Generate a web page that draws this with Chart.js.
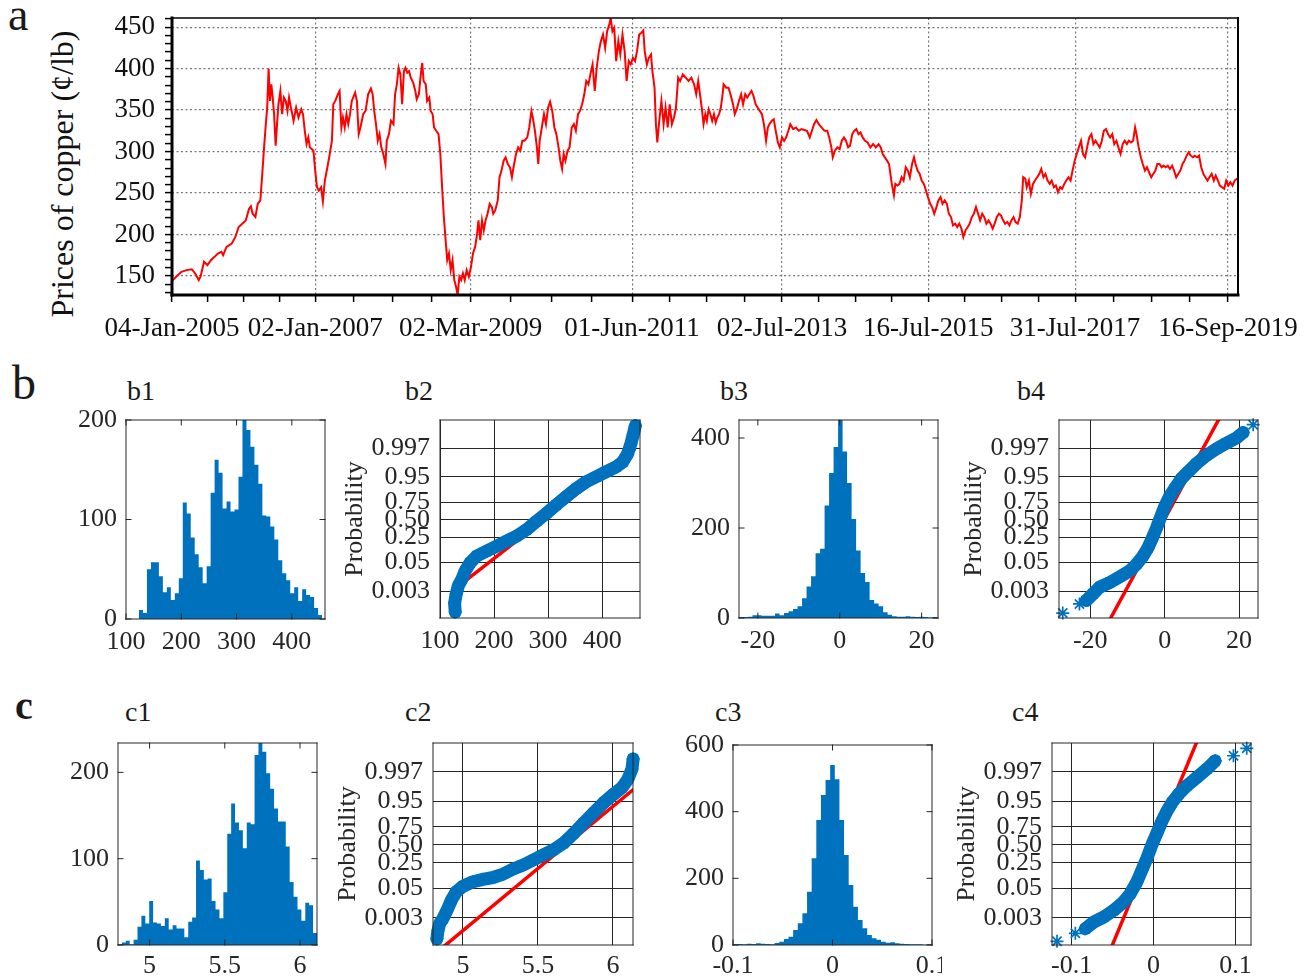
<!DOCTYPE html>
<html>
<head>
<meta charset="utf-8">
<script src="https://cdn.jsdelivr.net/npm/chart.js@4.4.1/dist/chart.umd.min.js"></script>
<style>
  html, body { margin: 0; padding: 0; background: #fff; }
  body { width: 1310px; height: 980px; position: relative; overflow: hidden;
         font-family: "Liberation Serif", "Times New Roman", serif; color: #1a1a1a; }
  .tag { position: absolute; line-height: 1; white-space: nowrap; }
  .panel { position: absolute; }
  .ytitle { position: absolute; white-space: nowrap; line-height: 1;
            transform: translate(-50%, -50%) rotate(-90deg); }
</style>
</head>
<body>
<div class="tag" style="left:8px;top:-8px;font-size:46px">a</div>
<div class="tag" style="left:12px;top:359px;font-size:48px">b</div>
<div class="tag" style="left:15px;top:686px;font-size:40px;font-weight:bold">c</div>
<div class="tag" style="left:127px;top:377px;font-size:28px">b1</div>
<div class="tag" style="left:405px;top:377px;font-size:28px">b2</div>
<div class="tag" style="left:720px;top:377px;font-size:28px">b3</div>
<div class="tag" style="left:1017px;top:377px;font-size:28px">b4</div>
<div class="tag" style="left:125px;top:698px;font-size:28px">c1</div>
<div class="tag" style="left:405px;top:698px;font-size:28px">c2</div>
<div class="tag" style="left:715px;top:698px;font-size:28px">c3</div>
<div class="tag" style="left:1012px;top:698px;font-size:28px">c4</div>
<div class="ytitle" style="left:62px;top:174px;font-size:32px;color:#111">Prices of copper (¢/lb)</div>

<script>
// ---------- (a) daily copper price, cents per pound ----------
const dateTicks = ['04-Jan-2005', '02-Jan-2007', '02-Mar-2009', '01-Jun-2011',
                   '02-Jul-2013', '16-Jul-2015', '31-Jul-2017', '16-Sep-2019'];

// days elapsed since 04-Jan-2005
const priceDay = [
  0,21,48,74,101,118,136,145,163,180,
  198,216,233,251,260,277,304,322,339,357,
  375,392,401,410,424,436,449,459,468,477,
  484,491,498,505,512,519,527,534,541,551,
  560,569,578,587,595,608,618,631,643,657,
  666,675,684,693,701,710,719,728,737,746,
  758,767,777,790,802,813,820,830,843,852,
  861,869,878,887,896,905,914,931,940,949,
  958,972,984,997,1011,1020,1028,1037,1046,1055,
  1064,1074,1085,1092,1103,1113,1126,1134,1143,1152,
  1161,1170,1179,1187,1196,1205,1214,1226,1237,1244,
  1255,1263,1272,1279,1290,1297,1308,1315,1325,1332,
  1343,1355,1364,1373,1382,1391,1399,1408,1417,1426,
  1435,1444,1452,1461,1470,1479,1488,1498,1509,1520,
  1530,1541,1551,1558,1567,1576,1585,1594,1604,1615,
  1626,1633,1643,1656,1665,1675,1686,1696,1707,1718,
  1728,1739,1749,1760,1771,1781,1792,1806,1816,1827,
  1834,1845,1855,1862,1869,1880,1891,1901,1912,1922,
  1933,1944,1954,1965,1974,1983,1991,2000,2011,2021,
  2032,2043,2053,2064,2074,2085,2096,2106,2117,2127,
  2138,2149,2159,2170,2180,2191,2202,2212,2223,2230,
  2239,2248,2258,2269,2279,2290,2301,2311,2322,2332,
  2343,2354,2364,2375,2385,2396,2403,2414,2424,2435,
  2442,2453,2460,2467,2477,2488,2499,2509,2520,2530,
  2541,2552,2562,2573,2583,2597,2612,2626,2640,2654,
  2665,2675,2693,2702,2711,2719,2728,2737,2746,2755,
  2764,2772,2781,2790,2799,2804,2817,2829,2839,2852,
  2861,2871,2882,2893,2903,2914,2924,2935,2946,2956,
  2967,2977,2988,2999,3009,3020,3029,3037,3048,3059,
  3069,3080,3090,3101,3112,3122,3133,3143,3158,3172,
  3186,3200,3214,3228,3242,3253,3264,3276,3288,3302,
  3317,3331,3341,3352,3359,3370,3382,3394,3405,3416,
  3426,3437,3447,3458,3469,3479,3490,3500,3511,3523,
  3536,3550,3564,3578,3592,3603,3613,3624,3635,3645,
  3652,3659,3670,3677,3688,3698,3709,3719,3730,3741,
  3751,3762,3772,3780,3790,3801,3811,3822,3833,3843,
  3854,3864,3875,3886,3896,3907,3917,3928,3939,3949,
  3960,3970,3981,3992,4002,4013,4023,4034,4045,4055,
  4066,4076,4087,4098,4108,4119,4129,4140,4151,4161,
  4172,4182,4193,4204,4214,4225,4235,4246,4257,4267,
  4278,4288,4299,4310,4320,4327,4338,4345,4356,4366,
  4377,4387,4398,4409,4419,4430,4440,4451,4462,4472,
  4483,4493,4504,4515,4525,4536,4546,4557,4568,4578,
  4589,4599,4610,4621,4631,4642,4652,4663,4674,4684,
  4695,4705,4716,4727,4737,4748,4758,4769,4780,4790,
  4801,4811,4822,4833,4843,4854,4864,4875,4886,4896,
  4903,4914,4925,4935,4946,4956,4967,4978,4988,4999,
  5009,5020,5031,5041,5052,5062,5073,5084,5094,5105,
  5115,5126,5137,5147,5158,5168,5179,5190,5200,5211,
  5221,5232,5243,5253,5264,5274,5285,5296,5306,5317,
  5327,5338,5349,5359,5370,5380,5391,5402,5419
];
const priceValue = [
  144,149,155,157,158,153,145,149,167,163,
  169,173,177,179,175,185,189,197,209,213,
  217,231,234,225,221,237,241,273,305,333,
  353,400,361,381,365,345,307,333,357,373,
  345,365,361,349,365,349,337,353,341,351,
  345,325,309,317,305,303,301,277,257,253,
  257,240,265,281,297,313,357,361,369,373,
  329,341,329,345,333,345,361,371,361,321,
  329,345,349,369,376,369,349,333,313,321,
  305,297,285,313,321,337,333,369,381,401,
  393,357,397,401,395,397,389,383,373,363,
  369,389,407,385,381,361,365,349,345,329,
  325,321,297,257,221,193,169,177,157,169,
  145,137,127,149,145,153,145,157,149,161,
  177,185,201,217,193,217,205,217,225,237,
  233,225,229,241,269,277,289,293,285,281,
  269,285,297,305,301,313,313,317,329,349,
  341,325,305,285,313,329,345,333,353,360,
  349,329,321,305,289,279,297,289,301,305,
  329,333,325,345,349,357,369,385,381,393,
  405,373,401,421,433,441,425,445,453,461,
  445,449,409,433,417,441,421,385,409,405,
  413,409,421,441,443,446,421,405,413,417,
  397,377,333,311,337,361,333,353,329,357,
  333,341,353,389,385,393,389,385,389,381,
  369,385,353,333,345,337,351,345,337,345,
  335,341,345,353,369,381,377,377,369,357,
  345,351,361,369,357,369,365,369,373,367,
  357,353,349,345,333,313,329,333,337,339,
  325,311,305,317,313,317,325,333,327,329,
  325,327,326,325,317,325,333,338,333,329,
  325,325,317,305,293,301,305,303,313,317,
  313,305,307,321,325,327,321,323,317,313,
  311,305,309,305,309,305,297,293,289,285,
  273,261,247,261,259,261,269,265,281,277,
  269,285,293,285,277,273,265,261,253,245,
  237,233,225,233,241,245,237,241,237,225,
  221,211,213,209,213,207,197,205,209,213,
  221,225,233,225,217,225,221,213,217,213,
  207,213,221,225,223,217,213,215,211,217,
  221,215,213,221,241,269,267,257,265,249,
  261,265,269,273,279,269,273,265,261,265,
  257,259,251,257,255,261,265,269,265,277,
  289,297,305,313,297,293,305,317,321,309,
  313,309,305,313,325,327,321,317,321,309,
  313,305,297,309,313,309,313,311,313,329,
  321,305,293,285,277,281,275,269,273,277,
  285,285,281,283,281,283,279,283,277,269,
  273,277,285,289,295,299,295,293,295,293,
  295,281,273,269,265,269,273,265,271,265,
  259,257,255,265,259,263,259,265,268
];

// ---------- (b1) histogram of prices ----------
const b1BinStart = 123.5, b1BinWidth = 7.2;
const b1Counts = [9,6,50,57,57,43,27,32,19,26,41,117,106,82,65,52,36,53,127,160,
                  147,111,118,108,110,143,200,190,173,155,136,104,103,93,80,59,46,39,26,32,
                  18,30,24,22,11,4];

// ---------- (b3) histogram of daily price changes ----------
const b3BinStart = -24.6, b3BinWidth = 1.1;
const b3Counts = [2,2,3,6,6,5,5,5,10,6,11,15,20,26,44,70,93,144,154,250,
                  322,380,440,370,300,220,150,100,80,40,32,26,13,7,4,3,3,4,3,2,
                  3,2,1,2];

// ---------- (c1) histogram of log prices ----------
const c1BinStart = 4.79, c1BinWidth = 0.02594;
const c1Counts = [1,3,5,1,6,21,34,25,51,26,25,22,31,18,23,19,19,9,27,32,
                  98,87,76,77,51,41,31,61,129,164,142,133,112,142,140,220,234,224,199,181,
                  158,143,143,114,73,56,41,28,49,46,14];

// ---------- (c3) histogram of log returns ----------
const c3BinStart = -0.1, c3BinWidth = 0.004651;
const c3Counts = [2,3,2,4,3,5,4,3,2,6,10,18,25,45,65,95,160,260,375,450,
                  495,540,497,375,270,180,115,75,50,30,20,16,10,7,8,5,4,3,2,2,
                  2,1,2];

// ---------- normal probability plots: sorted data vs normal quantile ----------
const probTicks = ['0.003', '0.05', '0.25', '0.50', '0.75', '0.95', '0.997'];

const b2X = [128.2,127,130,134,140.5,146.6,155.8,168,186.5,205,223,241.7,260,278.5,
             297,315,333.7,352,370.5,389,407,425.8,438,447,453,457.7,461.4];
const b2Z = [-3.54,-3.2,-2.85,-2.53,-2.28,-1.96,-1.65,-1.39,-1.2,-1.01,-0.82,-0.63,-0.38,-0.06,
             0.25,0.57,0.89,1.2,1.46,1.65,1.84,2.03,2.22,2.53,2.91,3.29,3.61];
const b2TailX = [], b2TailZ = [];
const b2FitX = [123, 461], b2FitZ = [-2.73, 2.73];

const b4X = [-21.1,-19.3,-17.5,-14.8,-12.1,-9.4,-7.6,-5.8,-4.5,-3.3,-2.2,-1.2,0,1.3,2.7,
             4.5,6.3,8.5,11.2,13.9,16.6,19.3,21.1];
const b4Z = [-3.1,-2.85,-2.59,-2.41,-2.19,-1.96,-1.71,-1.39,-1.08,-0.7,-0.32,0.06,0.51,0.89,1.2,
             1.58,1.84,2.15,2.47,2.72,2.94,3.14,3.35];
const b4TailX = [-27.4, -22.9, 23.8], b4TailZ = [-3.58, -3.23, 3.65];
const b4FitX = [-27.4, 23.8], b4FitZ = [-7.16, 6.28];

const c2X = [4.826,4.833,4.844,4.866,4.893,4.922,4.955,5.0,5.067,5.134,5.2,5.268,5.335,5.402,
             5.469,5.536,5.603,5.67,5.737,5.804,5.871,5.938,6.004,6.06,6.1,6.127,6.135,6.138];
const c2Z = [-3.54,-3.23,-2.97,-2.78,-2.47,-2.09,-1.77,-1.56,-1.39,-1.3,-1.23,-1.1,-0.91,-0.76,
             -0.57,-0.38,-0.19,0.06,0.42,0.82,1.2,1.58,1.9,2.15,2.47,2.85,3.23,3.6];
const c2TailX = [], c2TailZ = [];
const c2FitX = [4.826, 6.138], c2FitZ = [-4.04, 2.09];

const c4X = [-0.0833,-0.0732,-0.061,-0.0488,-0.0366,-0.0285,-0.0203,-0.0142,-0.0081,-0.002,
             0.0041,0.0102,0.0163,0.0224,0.0305,0.0407,0.0528,0.065,0.0752];
const c4Z = [-3.16,-2.91,-2.72,-2.47,-2.15,-1.84,-1.39,-0.95,-0.51,0,
             0.44,0.89,1.27,1.58,1.9,2.22,2.53,2.85,3.16];
const c4TailX = [-0.1179, -0.0955, 0.0976, 0.1138], c4TailZ = [-3.63, -3.33, 3.35, 3.63];
const c4FitX = [-0.1179, 0.1138], c4FitZ = [-8.78, 8.39];

// ---------------------------------------------------------------------------
const BLUE = '#0072BD';
const INK = '#262626';
Chart.defaults.font.family = '"Liberation Serif", "Times New Roman", serif';
Chart.defaults.font.size = 26;
Chart.defaults.color = INK;
Chart.defaults.animation = false;
Chart.defaults.plugins.legend.display = false;
Chart.defaults.plugins.tooltip.enabled = false;

// inverse of the standard normal CDF (Acklam's rational approximation)
function norminv(p) {
  const a = [-3.969683028665376e+01, 2.209460984245205e+02, -2.759285104469687e+02,
             1.383577518672690e+02, -3.066479806614716e+01, 2.506628277459239e+00];
  const b = [-5.447609879822406e+01, 1.615858368580409e+02, -1.556989798598866e+02,
             6.680131188771972e+01, -1.328068155288572e+01];
  const c = [-7.784894002430293e-03, -3.223964580411365e-01, -2.400758277161838e+00,
             -2.549732539343734e+00, 4.374664141464968e+00, 2.938163982698783e+00];
  const d = [7.784695709041462e-03, 3.224671290700398e-01, 2.445134137142996e+00,
             3.754408661907416e+00];
  const lo = 0.02425, hi = 1 - lo;
  if (p < lo) {
    const q = Math.sqrt(-2 * Math.log(p));
    return (((((c[0]*q+c[1])*q+c[2])*q+c[3])*q+c[4])*q+c[5]) / ((((d[0]*q+d[1])*q+d[2])*q+d[3])*q+1);
  }
  if (p > hi) {
    const q = Math.sqrt(-2 * Math.log(1 - p));
    return -(((((c[0]*q+c[1])*q+c[2])*q+c[3])*q+c[4])*q+c[5]) / ((((d[0]*q+d[1])*q+d[2])*q+d[3])*q+1);
  }
  const q = p - 0.5, r = q * q;
  return (((((a[0]*r+a[1])*r+a[2])*r+a[3])*r+a[4])*r+a[5])*q /
         (((((b[0]*r+b[1])*r+b[2])*r+b[3])*r+b[4])*r+1);
}

const MONTHS = ['Jan','Feb','Mar','Apr','May','Jun','Jul','Aug','Sep','Oct','Nov','Dec'];
function dayNumber(s) {
  const [d, m, y] = s.split('-');
  return Date.UTC(+y, MONTHS.indexOf(m), +d) / 864e5;
}

// axes box, drawn over the data; optional inward tick marks on all four sides
const framePlugin = {
  id: 'frame',
  defaults: { color: INK, widths: [1, 1, 1, 1], tickLen: 0 },
  afterDatasetsDraw(chart, _args, o) {
    const { ctx, chartArea: a } = chart;
    ctx.save();
    ctx.strokeStyle = o.color;
    ctx.lineCap = 'square';
    const seg = (w, x1, y1, x2, y2) => {
      if (!w) return;
      ctx.lineWidth = w; ctx.beginPath(); ctx.moveTo(x1, y1); ctx.lineTo(x2, y2); ctx.stroke();
    };
    if (o.tickLen) {
      const xs = chart.scales.x, ys = chart.scales.y;
      xs.ticks.forEach(t => {
        const p = xs.getPixelForValue(t.value);
        if (p < a.left - 0.5 || p > a.right + 0.5) return;
        seg(1, p, a.bottom, p, a.bottom - o.tickLen);
        seg(1, p, a.top, p, a.top + o.tickLen);
      });
      ys.ticks.forEach(t => {
        const p = ys.getPixelForValue(t.value);
        if (p < a.top - 0.5 || p > a.bottom + 0.5) return;
        seg(1, a.left, p, a.left + o.tickLen, p);
        seg(1, a.right, p, a.right - o.tickLen, p);
      });
    }
    const [wt, wr, wb, wl] = o.widths;
    seg(wt, a.left, a.top, a.right, a.top);
    seg(wr, a.right, a.top, a.right, a.bottom);
    seg(wb, a.left, a.bottom, a.right, a.bottom);
    seg(wl, a.left, a.top, a.left, a.bottom);
    ctx.restore();
  }
};
Chart.register(framePlugin);

// place a canvas so that its plot area lands on [L, T, R, B]
function mount([L, T, R, B], g) {
  const w = R - L + g.left + g.right, h = B - T + g.top + g.bottom;
  const div = document.createElement('div');
  div.className = 'panel';
  div.style.cssText = `left:${L - g.left}px;top:${T - g.top}px;width:${w}px;height:${h}px`;
  const cv = document.createElement('canvas');
  cv.width = w; cv.height = h; cv.style.width = w + 'px'; cv.style.height = h + 'px';
  div.appendChild(cv);
  document.body.appendChild(div);
  return cv;
}
const fixY = w => s => { s.width = w; s.paddingTop = 0; s.paddingBottom = 0; };
const fixX = h => s => { s.height = h; s.paddingLeft = 0; s.paddingRight = 0; };
const baseOptions = g => ({
  responsive: false, events: [],
  layout: { padding: { top: g.top, right: g.right, left: 0, bottom: 0 } }
});

// ---------- (a) ----------
(function () {
  const g = { left: 132, right: 72, top: 10, bottom: 53 };
  const cv = mount([172, 18, 1238, 295], g);
  const day0 = dayNumber(dateTicks[0]);
  const major = dateTicks.map(s => dayNumber(s) - day0);
  const minor = [];
  for (let i = 0; i < major.length - 1; i++)
    for (let j = 1; j < 4; j++) minor.push(major[i] + (major[i + 1] - major[i]) * j / 4);
  const gridColor = c => (c.tick && !c.tick.minor) ? '#7a7a7a' : 'rgba(0,0,0,0)';
  new Chart(cv, {
    type: 'line',
    data: { datasets: [{
      data: priceDay.map((d, i) => ({ x: d, y: priceValue[i] })),
      borderColor: '#ff0000', borderWidth: 2, pointRadius: 0, tension: 0, clip: 0
    }] },
    options: Object.assign(baseOptions(g), {
      plugins: { frame: { color: '#000', widths: [1.5, 2, 3, 3] } },
      scales: {
        x: {
          type: 'linear', min: 0, max: priceDay[priceDay.length - 1],
          afterBuildTicks: s => {
            s.ticks = major.map(v => ({ value: v }))
              .concat(minor.map(v => ({ value: v, minor: true })))
              .sort((p, q) => p.value - q.value);
          },
          afterFit: fixX(g.bottom),
          ticks: { autoSkip: false, maxRotation: 0, padding: 11, color: '#111', font: { size: 27 },
                   callback: v => { const i = major.indexOf(v); return i < 0 ? '' : dateTicks[i]; } },
          grid: { color: gridColor, lineWidth: 1.2, tickColor: '#000', tickWidth: 1.5, tickLength: 7 },
          border: { display: false, dash: [2, 2.5] }
        },
        y: {
          type: 'linear', min: Math.min(...priceValue), max: Math.max(...priceValue),
          afterBuildTicks: s => {
            const t = [];
            for (let v = Math.ceil(s.min / 10) * 10; v <= s.max; v += 10) t.push({ value: v, minor: v % 50 !== 0 });
            s.ticks = t;
          },
          afterFit: fixY(g.left),
          ticks: { autoSkip: false, padding: 10, color: '#111', font: { size: 27 },
                   callback: v => (v % 50 === 0 ? String(v) : '') },
          grid: { color: gridColor, lineWidth: 1.2, tickColor: '#000', tickWidth: 1.5, tickLength: 7 },
          border: { display: false, dash: [2, 2.5] }
        }
      }
    })
  });
})();

// ---------- histograms: filled step outline over the bin edges ----------
function histogram(area, g, o) {
  const cv = mount(area, g);
  const pts = o.counts.map((c, i) => ({ x: o.start + i * o.width, y: c }));
  pts.push({ x: o.start + o.counts.length * o.width, y: 0 });   // right edge of the last bin
  new Chart(cv, {
    type: 'line',
    data: { datasets: [{
      data: pts, stepped: 'before', fill: 'origin', backgroundColor: BLUE,
      borderWidth: 0, borderColor: BLUE, pointRadius: 0, clip: 0
    }] },
    options: Object.assign(baseOptions(g), {
      plugins: { frame: { widths: [1, 1, 1, 1], tickLen: 5 } },
      scales: {
        x: {
          type: 'linear', min: o.xMin, max: o.xMax,
          afterBuildTicks: s => { s.ticks = o.xTicks.map(v => ({ value: v })); },
          afterFit: fixX(g.bottom),
          ticks: { autoSkip: false, maxRotation: 0, padding: g.xPad, callback: v => String(v) },
          grid: { display: false, drawTicks: false }, border: { display: false }
        },
        y: {
          type: 'linear', min: 0, max: o.yMax,
          afterBuildTicks: s => { s.ticks = o.yTicks.map(v => ({ value: v })); },
          afterFit: fixY(g.left),
          ticks: { autoSkip: false, padding: 9, callback: v => String(v) },
          grid: { display: false, drawTicks: false }, border: { display: false }
        }
      }
    })
  });
}

// ---------- normal probability plots ----------
const Z_MIN = -3.77, Z_MAX = 3.83;
function probPlot(area, g, o) {
  const cv = mount(area, g);
  const pts = (xs, zs) => xs.map((x, i) => ({ x, y: zs[i] }));
  const star = { pointStyle: 'star', pointRadius: 6.5, pointBorderWidth: 1.7,
                 pointBorderColor: BLUE, pointBackgroundColor: BLUE };
  new Chart(cv, {
    type: 'scatter',
    data: { datasets: [
      Object.assign({ data: pts(o.x, o.z), showLine: true, borderColor: BLUE, borderWidth: 13,
                      borderJoinStyle: 'round', borderCapStyle: 'round', clip: 10 }, star),
      Object.assign({ data: pts(o.tailX, o.tailZ), showLine: false, clip: 10 }, star),
      { data: pts(o.fitX, o.fitZ), showLine: true, borderColor: '#ff0000', borderWidth: 3.5,
        pointRadius: 0, clip: 0 }
    ] },
    options: Object.assign(baseOptions(g), {
      plugins: { frame: { widths: [1, 1, 1, 1] } },
      scales: {
        x: {
          type: 'linear', min: o.xMin, max: o.xMax,
          afterBuildTicks: s => { s.ticks = o.xTicks.map(v => ({ value: v })); },
          afterFit: fixX(g.bottom),
          ticks: { autoSkip: false, maxRotation: 0, padding: g.xPad, callback: v => String(v) },
          grid: { color: INK, lineWidth: 1, drawTicks: false }, border: { display: false }
        },
        y: {
          type: 'linear', min: Z_MIN, max: Z_MAX,
          afterBuildTicks: s => { s.ticks = probTicks.map(p => ({ value: norminv(Number(p)) })); },
          afterFit: fixY(g.left),
          ticks: { autoSkip: false, padding: 10, callback: (v, i) => probTicks[i] },
          grid: { color: INK, lineWidth: 1, drawTicks: false }, border: { display: false },
          title: { display: true, text: 'Probability', padding: { top: 0, bottom: 0 } }
        }
      }
    })
  });
}

const gHistB = { left: 60, right: 10, top: 22, bottom: 40, xPad: 8 };
const gProbB = { left: 100, right: 14, top: 22, bottom: 40, xPad: 8 };
const gHistC = { left: 60, right: 10, top: 22, bottom: 35, xPad: 6 };
const gProbC = { left: 100, right: 14, top: 22, bottom: 35, xPad: 6 };

histogram([126, 420, 325, 619], gHistB, {
  start: b1BinStart, width: b1BinWidth, counts: b1Counts,
  xMin: 100, xMax: 460, xTicks: [100, 200, 300, 400], yMax: 200, yTicks: [0, 100, 200] });
probPlot([440, 420, 640, 618], gProbB, {
  x: b2X, z: b2Z, tailX: b2TailX, tailZ: b2TailZ, fitX: b2FitX, fitZ: b2FitZ,
  xMin: 100, xMax: 470, xTicks: [100, 200, 300, 400] });
histogram([739, 420, 938, 618], gHistB, {
  start: b3BinStart, width: b3BinWidth, counts: b3Counts,
  xMin: -24.6, xMax: 24, xTicks: [-20, 0, 20], yMax: Math.max(...b3Counts), yTicks: [0, 200, 400] });
probPlot([1059, 420, 1258, 618], gProbB, {
  x: b4X, z: b4Z, tailX: b4TailX, tailZ: b4TailZ, fitX: b4FitX, fitZ: b4FitZ,
  xMin: -28.4, xMax: 25.1, xTicks: [-20, 0, 20] });

histogram([118, 743, 317, 945], gHistC, {
  start: c1BinStart, width: c1BinWidth, counts: c1Counts,
  xMin: 4.79, xMax: 6.113, xTicks: [5, 5.5, 6], yMax: Math.max(...c1Counts), yTicks: [0, 100, 200] });
probPlot([433, 743, 633, 945], gProbC, {
  x: c2X, z: c2Z, tailX: c2TailX, tailZ: c2TailZ, fitX: c2FitX, fitZ: c2FitZ,
  xMin: 4.8, xMax: 6.134, xTicks: [5, 5.5, 6] });
histogram([733, 745, 932, 945], gHistC, {
  start: c3BinStart, width: c3BinWidth, counts: c3Counts,
  xMin: -0.1, xMax: 0.1, xTicks: [-0.1, 0, 0.1], yMax: 600, yTicks: [0, 200, 400, 600] });
probPlot([1052, 743, 1251, 945], gProbC, {
  x: c4X, z: c4Z, tailX: c4TailX, tailZ: c4TailZ, fitX: c4FitX, fitZ: c4FitZ,
  xMin: -0.124, xMax: 0.119, xTicks: [-0.1, 0, 0.1] });
</script>
</body>
</html>
